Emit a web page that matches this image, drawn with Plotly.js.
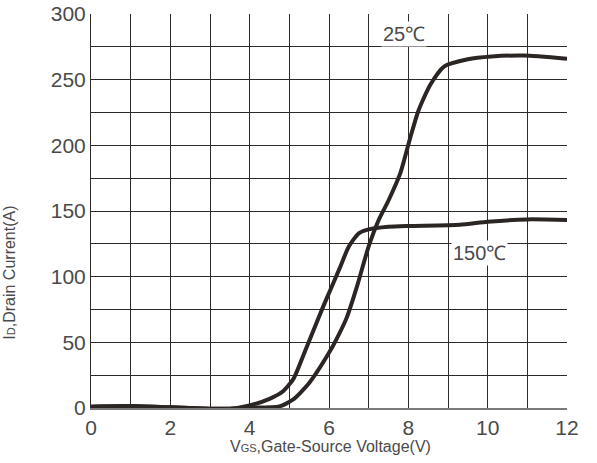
<!DOCTYPE html>
<html>
<head>
<meta charset="utf-8">
<script src="https://cdn.plot.ly/plotly-3.0.1.min.js"></script>
<style>html,body{margin:0;padding:0;background:#fff;}#chart{width:597px;height:463px;}</style>
</head>
<body>
<div id="chart"></div>
<script>
// Gate-source voltage (V) and drain current (A)
const vgs25 = [0, 1, 2, 3, 3.5, 4, 4.75, 5.1, 5.5, 6, 6.2, 6.45, 6.7, 7, 7.25, 7.5, 7.8, 8.05, 8.25, 8.55, 8.9, 9.5, 10.1, 10.9, 12];
const id25  = [1, 1.5, 0.5, -0.5, -0.5, 0.2, 1.2, 6.5, 19, 42, 53, 69, 92, 123, 143, 158, 179, 206, 226, 246, 260, 265.5, 267.6, 268.4, 266];
const vgs150 = [0, 1, 2, 3, 3.5, 4, 4.5, 4.85, 5.1, 5.3, 5.5, 5.85, 6.05, 6.27, 6.5, 6.75, 7, 7.5, 8, 9.3, 10, 11, 12];
const id150  = [1, 1.5, 0.5, -0.5, -0.5, 2, 7, 13, 22, 36, 51, 77, 91, 106.5, 123, 133, 136, 138, 138.6, 139.5, 141.8, 143.6, 143.2];
const seriesNames = ["25℃", "150℃"];
const xTicks = [0, 2, 4, 6, 8, 10, 12];
const yTicks = [0, 50, 100, 150, 200, 250, 300];

const lineColor = "#2b2523";
const gridColor = "#2e2a28";
const textColor = "#4a4a4a";
const fontFam = "Liberation Sans Narrow, Liberation Sans, Arial, sans-serif";

const traces = [
  {x: vgs25, y: id25, name: seriesNames[0], mode: "lines",
   line: {color: lineColor, width: 4, shape: "spline", smoothing: 0.6}},
  {x: vgs150, y: id150, name: seriesNames[1], mode: "lines",
   line: {color: lineColor, width: 4, shape: "spline", smoothing: 0.6}}
];

const layout = {
  width: 597, height: 463,
  margin: {l: 91, r: 30, t: 14, b: 55},
  paper_bgcolor: "#fff", plot_bgcolor: "#fff",
  showlegend: false,
  font: {family: fontFam, color: textColor},
  xaxis: {
    range: [0, 12], tickvals: xTicks, ticktext: xTicks.map(String),
    showgrid: true, gridcolor: gridColor, gridwidth: 1,
    minor: {dtick: 1, showgrid: true, gridcolor: gridColor, gridwidth: 1},
    zeroline: false, showline: true, linecolor: "#7a7a7a", linewidth: 2,
    ticks: "", tickfont: {size: 21, color: textColor, family: fontFam},
    fixedrange: true
  },
  yaxis: {
    range: [0, 300], tickvals: yTicks, ticktext: yTicks.map(String),
    showgrid: true, gridcolor: gridColor, gridwidth: 1,
    minor: {dtick: 25, showgrid: true, gridcolor: gridColor, gridwidth: 1},
    zeroline: false, showline: true, linecolor: gridColor, linewidth: 1,
    ticks: "", tickfont: {size: 21, color: textColor, family: fontFam},
    fixedrange: true
  },
  annotations: [
    {x: 7.9, y: 285, xref: "x", yref: "y", text: seriesNames[0], showarrow: false,
     font: {size: 20, color: textColor, family: fontFam}, bgcolor: "#fff"},
    {x: 9.8, y: 118, xref: "x", yref: "y", text: seriesNames[1], showarrow: false,
     font: {size: 20, color: textColor, family: fontFam}, bgcolor: "#fff"},
    {x: (330 - 91) / 476, y: -(447 - 408.5) / 394.5, xref: "paper", yref: "paper",
     text: "V<span style='font-size:11px'>GS</span>,Gate-Source Voltage(V)", showarrow: false,
     font: {size: 16, color: textColor, family: fontFam}, xanchor: "center", yanchor: "middle"},
    {x: (10 - 91) / 476, y: (408.5 - 273) / 394.5, xref: "paper", yref: "paper",
     text: "I<span style='font-size:11px'>D</span>,Drain Current(A)", showarrow: false, textangle: -90,
     font: {size: 16, color: textColor, family: fontFam}, xanchor: "center", yanchor: "middle"}
  ]
};

Plotly.newPlot("chart", traces, layout, {staticPlot: true, displayModeBar: false});
</script>
</body>
</html>
